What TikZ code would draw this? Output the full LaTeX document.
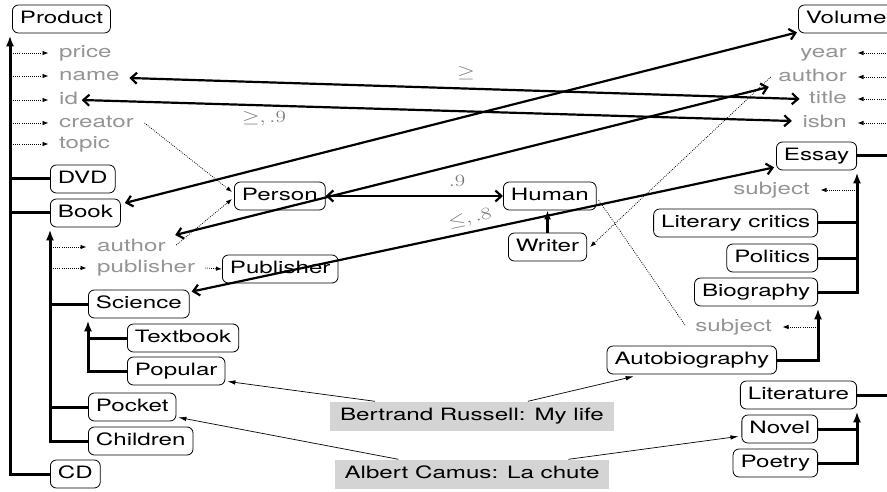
\documentclass[tikz,border=0pt]{standalone}
\usepackage{fontspec}
\setmainfont[FakeStretch=1.42]{TeX Gyre Heros}
\usepackage{graphicx}
\usetikzlibrary{arrows.meta,calc}
\definecolor{attrgray}{gray}{0.58}
\definecolor{labgray}{gray}{0.45}
\definecolor{boxgray}{gray}{0.83}
\begin{document}
\begin{tikzpicture}[x=1pt,y=-1pt,
  font=\fontsize{17}{20}\selectfont,
  cls/.style={draw, rounded corners=6pt, line width=0.8pt, inner xsep=7.5pt, inner ysep=0pt, minimum height=28pt, text height=12.5pt, text depth=3.5pt},
  attr/.style={text=attrgray, inner sep=1.5pt, text height=12.5pt, text depth=3.5pt},
  inst/.style={fill=boxgray, inner xsep=10pt, inner ysep=0pt, minimum height=29pt, text height=12.5pt, text depth=3.5pt},
  treeline/.style={line width=3pt},
  treearrow/.style={line width=3pt, -{Latex[length=11pt,width=8pt]}},
  dotarrow/.style={dash pattern=on 0.8pt off 1.3pt, line width=0.8pt, -{Latex[length=6pt,width=4.5pt]}},
  dotline/.style={dash pattern=on 0.8pt off 1.3pt, line width=0.8pt},
  map/.style={line width=2.2pt, {Straight Barb[length=6pt,width=11pt]}-{Straight Barb[length=6pt,width=11pt]}},
  instarrow/.style={line width=0.7pt, -{Latex[length=8pt,width=4.5pt]}},
  lab/.style={text=labgray, inner sep=0pt, font=\fontsize{19}{21}\selectfont}
]
\path[use as bounding box, fill=white] (0,0) rectangle (887,492);
\coordinate (lt) at (10,474);
\coordinate (re) at (892,0);

% classes
\node[cls, anchor=west] (Product) at (12,19) {Product};
\node[cls, anchor=west] (DVD) at (50,179) {DVD};
\node[cls, anchor=west] (Book) at (50,213) {Book};
\node[cls, anchor=west] (Science) at (88,304) {Science};
\node[cls, anchor=west] (Textbook) at (127,338) {Textbook};
\node[cls, anchor=west] (Popular) at (127,371) {Popular};
\node[cls, anchor=west] (Pocket) at (88,407) {Pocket};
\node[cls, anchor=west] (Children) at (88,441) {Children};
\node[cls, anchor=west] (CD) at (50,474) {CD};
\node[cls, anchor=west] (Person) at (234,196) {Person};
\node[cls, anchor=west] (Publisher) at (222,269) {Publisher};
\node[cls, anchor=west] (Human) at (503,196) {Human};
\node[cls, anchor=west] (Writer) at (508,247) {Writer};
\node[cls, anchor=west] (Volume) at (798,19) {Volume};
\node[cls, anchor=east] (Essay) at (857,156) {Essay};
\node[cls, anchor=east] (Lit) at (818,223) {Literary critics};
\node[cls, anchor=east] (Politics) at (818,258) {Politics};
\node[cls, anchor=east] (Biography) at (818,292) {Biography};
\node[cls, anchor=east] (Auto) at (777,360) {Autobiography};
\node[cls, anchor=east] (Literature) at (857,395) {Literature};
\node[cls, anchor=east] (Novel) at (818,429) {Novel};
\node[cls, anchor=east] (Poetry) at (818,463) {Poetry};

% attributes
\node[attr, anchor=west] (price) at (57.5,53) {price};
\node[attr, anchor=west] (name) at (57.5,76) {name};
\node[attr, anchor=west] (id) at (57.5,100) {id};
\node[attr, anchor=west] (creator) at (57.5,123) {creator};
\node[attr, anchor=west] (topic) at (57.5,144) {topic};
\node[attr, anchor=west] (bauthor) at (95.5,247) {author};
\node[attr, anchor=west] (publisher) at (95.5,268) {publisher};
\node[attr, anchor=east] (year) at (848.5,53) {year};
\node[attr, anchor=east] (vauthor) at (848.5,77) {author};
\node[attr, anchor=east] (title) at (848.5,99) {title};
\node[attr, anchor=east] (isbn) at (848.5,123) {isbn};
\node[attr, anchor=east] (subjA) at (811.5,190) {subject};
\node[attr, anchor=east] (subjB) at (773.5,327) {subject};

% instances
\node[inst] (br) at (472,416) {Bertrand Russell: My life};
\node[inst] (ac) at (472,474) {Albert Camus: La chute};

% left tree
\draw[treearrow] (CD.west) -| ([xshift=-2pt,yshift=-2pt]Product.south west);
\draw[treeline] (DVD.west) -- (DVD.west -| lt);
\draw[treeline] (Book.west) -- (Book.west -| lt);
\foreach \a in {price,name,id,creator,topic}
  \draw[dotarrow, shorten >=9pt] ([xshift=1pt]\a.west -| lt) -- (\a.west);
\draw[treearrow] (Children.west) -| ([yshift=-2pt]Book.south west);
\draw[treeline] (Science.west) -- (Science.west -| Book.south west);
\draw[treeline] (Pocket.west) -- (Pocket.west -| Book.south west);
\foreach \a in {bauthor,publisher}
  \draw[dotarrow, shorten >=9pt] ([xshift=1pt]\a.west -| Book.south west) -- (\a.west);
\draw[treearrow] (Popular.west) -| ([yshift=-2pt]Science.south west);
\draw[treeline] (Textbook.west) -- (Textbook.west -| Science.south west);

% right tree
\draw[treearrow] (Biography.east) -| ([yshift=-2pt]Essay.south east);
\draw[treeline] (Lit.east) -- (Lit.east -| Essay.south east);
\draw[treeline] (Politics.east) -- (Politics.east -| Essay.south east);
\draw[treeline] (Essay.east) -- (Essay.east -| re);
\draw[dotarrow, shorten >=9pt] (subjA.east -| Essay.south east) -- (subjA.east);
\draw[treearrow] (Auto.east) -| ([yshift=-2pt]Biography.south east);
\draw[dotarrow, shorten >=9pt] (subjB.east -| Biography.south east) -- (subjB.east);
\draw[treearrow] (Poetry.east) -| ([yshift=-2pt]Literature.south east);
\draw[treeline] (Novel.east) -- (Novel.east -| Literature.south east);
\draw[treeline] (Literature.east) -- (Literature.east -| re);
\foreach \a in {year,vauthor,title,isbn}
  \draw[dotarrow, shorten >=9pt] (\a.east -| re) -- (\a.east);

% writer / human
\draw[line width=2.4pt, -{Latex[length=9pt,width=7pt]}] (Writer.north) -- (Writer.north |- Human.south);

% dotted links
\draw[dotarrow] ($(creator.east)+(9,0)$) -- ($(Person.west)+(-2,-4)$);
\draw[dotarrow] ($(bauthor.east)+(9,-2)$) -- ($(Person.west)+(-2,3)$);
\draw[dotarrow] ($(publisher.east)+(8,0)$) -- (Publisher.west);
\draw[dotarrow] ($(vauthor.west)+(-6,0)$) -- ($(Writer.east)+(3,0)$);
\draw[dotline] ($(Human.east)+(2,4)$) -- ($(subjB.west)+(-8,-1)$);

% mappings
\draw[map] ($(name.east)+(8,2)$) -- ($(title.west)+(-8,0)$);
\draw[map] ($(id.east)+(2,0)$) -- ($(isbn.west)+(-9,-2)$);
\draw[map] ($(Book.east)+(4,-10)$) -- ($(Volume.south west)+(-1,-1)$);
\draw[map] ($(bauthor.east)+(8,-12)$) -- ($(vauthor.west)+(-8,10)$);
\draw[map] (Person.east) -- (Human.west);
\draw[map] ($(Science.north east)+(2,2)$) -- ($(Essay.south west)+(-2,-3)$);

% labels
\node[lab] at (466,73) {\scalebox{1.3}[1]{$\geq$}};
\node[lab] at (264,119) {\scalebox{1.3}[1]{$\geq, .9$}};
\node[lab] at (457,181) {\scalebox{1.3}[1]{$.9$}};
\node[lab, rotate=12] at (470,219) {\scalebox{1.3}[1]{$\leq, .8$}};

% instance links
\draw[instarrow] ($(br.north west)+(45,0)$) -- ($(Popular.south east)+(2,-4)$);
\draw[instarrow] ($(br.north west)+(198,0)$) -- ($(Auto.south west)+(27,2)$);
\draw[instarrow] ($(ac.north west)+(64,0)$) -- ($(Pocket.south east)+(2,-4)$);
\draw[instarrow] ($(ac.north west)+(234,0)$) -- ($(Novel.south west)+(-3,-7)$);
\end{tikzpicture}
\end{document}
